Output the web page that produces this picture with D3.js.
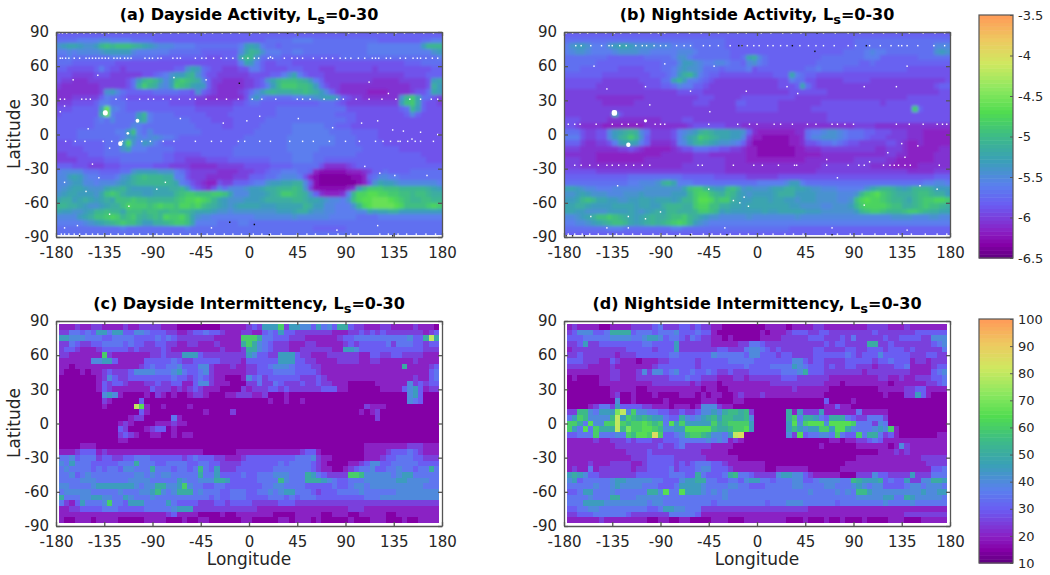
<!DOCTYPE html>
<html>
<head>
<meta charset="utf-8">
<script src="https://cdn.jsdelivr.net/npm/d3@7"></script>
<style>
body { margin: 0; background: #fff; }
text { font-family: "DejaVu Sans", sans-serif; fill: #262626; }
.title { font-weight: bold; fill: #000; }
</style>
</head>
<body>
<svg id="fig" width="1050" height="575"></svg>
<script>
// tick labels
var lonTicks = [-180, -135, -90, -45, 0, 45, 90, 135, 180];
var latTicks = [-90, -60, -30, 0, 30, 60, 90];
var activityTicks = [-6.5, -6, -5.5, -5, -4.5, -4, -3.5];
var intermitTicks = [10, 20, 30, 40, 50, 60, 70, 80, 90, 100];

// colour ramp (position 0-1, colour)
var rampPos = [0, 0.055, 0.11, 0.22, 0.3, 0.4, 0.5, 0.6, 0.7, 0.8, 0.9, 1];
var rampCol = ["#5f0080", "#8400a6", "#8a20c4", "#6a5cf2", "#5a80ee", "#3a9fb8", "#3dba88", "#50dc50", "#8fe860", "#cfe860", "#eec860", "#ff9a58"];

// activity cells, 5 deg boxes, one base-36 digit each: log10 value = -6.45 + 0.093 * digit
// rows run from 90 N down to 90 S
var dayActivity = [
"777777 777777 777777 777777 777777 777777 777777 777777 777777 777777 777777 777777",
"888899 99aa99 998888 777777 777777 777777 777888 889999 888888 888888 777777 778899",
"bcddcb bcfgfg ggfedc baaa99 998888 88889c dc9887 888888 888888 888899 999999 99cfff",
"99a9aa aabccc cca999 999888 888777 7777ad feb999 889988 888888 888899 999999 9999bc",
"889888 888899 998888 877777 777766 6777dg fb8888 777777 777778 888888 888888 888889",
"888777 777776 666666 666666 666666 66669d c97667 776666 666666 666666 666667 778888",
"776666 679766 566666 666677 bdc876 655566 997666 677766 655566 666665 666666 666677",
"666555 566655 555566 789bcc efb866 555555 666677 9bd976 665555 555555 555556 666777",
"655444 555555 568cfg fdacgh gfea75 544445 567bdf gggfec 975555 555554 444455 5556cd",
"544444 445555 568ehf ebachg fdcc75 444445 5679cf hhhggf c86554 444444 444444 5556ec",
"444444 445bca 877777 888887 76b765 444456 8acefe eeffgf eca754 444433 334444 5668dc",
"444555 557988 766666 666666 665544 444446 ac9888 8899aa bcddb7 655444 4444bf hd8865",
"555666 679988 877777 777666 665555 555667 887777 777777 788876 555555 5555cg hd7665",
"666777 77cka9 877777 777777 776666 666777 777778 888888 888888 666666 666678 fc7666",
"677777 77ek98 888cf9 888877 777766 667777 777778 888888 888877 776666 666667 a76666",
"777777 7898a8 888de9 888888 877776 666777 777888 888888 888888 776666 666666 666666",
"777777 788888 88a988 888888 887777 766777 778888 889999 998877 766666 666666 666666",
"777788 888889 9cg98a 888888 888777 777777 788888 889999 999888 877777 666666 666666",
"777788 888888 9bca9a ba9987 777777 777778 888888 899999 999988 887777 666666 666666",
"666777 777888 cib9cb 987777 777777 777788 888888 899999 999988 887777 766666 666666",
"666667 777888 bd9998 888877 777777 777888 888888 899999 988888 888777 777766 666666",
"556666 777888 888888 887766 666777 777888 888888 889999 888888 887777 777777 776666",
"555566 666777 888888 887766 555566 667777 777788 889999 887777 777777 777777 777666",
"777666 555666 777777 666555 544444 555556 666677 778888 864444 567777 777777 777777",
"9aaaa8 887777 88bccc cbbb98 655555 444455 566788 999887 322222 333457 787777 888888",
"aacdca 998889 bcefgf ffee99 655544 444555 777889 aaa963 211111 122378 aa9988 888888",
"aabcca a9aaab cdefff fffed9 865433 655777 899bcc ddeea6 211111 11236b dccbaa aaaaa9",
"abcddc bbbdee fdcccc dddeef c86546 a8aaab ccdeef ffgfb5 222222 34cfhh hgggff fffedc",
"bcddcc cbdghg edddcc ddddfg hhgggh hgdaaa cccdef hhgfeb 743334 9fiijj iihhgg fggfee",
"deecde dcdedg gghggf ffffgh iijihf dcbbbc ccdeee eeffed dcbaa9 bgijjk kkjihg ffggff",
"ffeedc bbcdee gihhhg hihhgi ihigfe dcbcdd ddcccd ddddfe ccaa99 9bfijk kkkjig ggghih",
"dccbbc dffgff dgggfg gffggf fedddc bbabbb bbbbbc ccdeec bbaa99 99aadc ddeecc cccccc",
"aaaacd egghih fghfef gfihhi gdbaa9 999999 9aaaaa aabaaa aaa999 998888 999999 999999",
"99999a bcdefg hggecc eefghh gd9999 888899 888888 888888 888888 888888 888888 888888",
"888888 888888 988888 888888 988888 888888 888888 888888 777777 888888 888888 888888",
"888888 888888 888888 888888 888888 888888 888888 888888 888888 888888 888888 888888"
];
var nightActivity = [
"777777 777777 777777 777777 777777 777777 777777 777777 777777 777777 777777 777777",
"888888 888888 888888 888888 888888 777777 777777 777777 777777 888888 888888 888888",
"9bccb9 99bcdd cbbbba aa9999 888888 777777 777777 777777 777777 888888 888888 888aaa",
"9abba9 999abb bbaa99 999aaa 988888 877777 777777 777777 777788 889a99 888888 888bcb",
"888888 887777 777888 889bb9 888888 8778de a87777 777777 888888 889997 777777 888888",
"888888 777777 777777 888acc ba99aa 9887ab 987777 777778 888888 877877 777777 777777",
"888777 777766 666777 889bcb ba8887 888896 777777 777889 888877 777777 777766 666666",
"777777 766666 666677 789cef c98776 666666 666777 d98776 666666 666666 666666 666666",
"666666 655555 556666 88dfc9 987655 555555 555566 988665 555566 666555 555555 555556",
"666666 555555 555666 778a99 776555 555555 555566 67d865 555555 555555 555555 555677",
"555555 555555 555555 555666 665555 555555 555555 666666 655555 555555 555555 555566",
"555555 444444 444555 555555 566655 555666 666666 655555 555555 555555 555566 666666",
"555555 544444 455555 555555 666555 557766 666655 555555 666666 666665 666666 666666",
"555555 555555 555555 555555 555555 556666 666655 555566 666666 666666 66666h 766666",
"555555 555d65 555555 555555 555555 555555 555555 555555 566666 666666 666666 666666",
"666555 554444 444444 555566 555555 555555 555555 555555 566666 666666 666666 666666",
"665444 433333 333444 444445 666666 555444 444444 444444 444444 555544 444444 444444",
"888655 66acde fea855 5569ab cefedd dccb74 333333 344899 abba98 887766 655544 433333",
"999655 66acef hfb755 5569bd ehgfed dcca53 322222 3348aa bbba98 887666 555544 433333",
"777544 5569cd dc9744 4459ac efedcb ba9742 222222 334667 889876 655555 665433 433333",
"555444 444455 654333 334566 888776 655433 222222 233444 555555 555544 555433 333344",
"444444 333333 333333 444444 555444 444433 222222 233333 444444 444444 554433 333444",
"555444 333333 333444 444444 555555 444433 333333 333444 444444 555555 443333 333444",
"555444 444444 444444 444455 555555 444444 444444 444444 555555 555444 433333 444444",
"666666 555555 555555 555555 555555 444444 444444 444445 555555 555555 555544 444555",
"777777 777777 888888 888877 777766 666655 555566 666666 666666 666666 666666 666777",
"888888 888888 99aaab efd999 888888 888888 99999a cc9888 888888 888888 888888 899aa9",
"ddcbaa 999aaa aaabbb bbbbdg hhfdcc fgebcb bbcdde eddcbb aaa999 99bdef fedcdf ffeccc",
"bbcdcb bbaaab bbcbbb bbcccf hiigfe gfdcbc cccdee eccccb bbbaaa bfhijh gfeeef ggfeec",
"ccdfgf ddccbb ccddcd ddcdff hjjigh hedccd ddcddc cbcccb bbbaab gijiih gffedf ghhiih",
"ddeedc cccddd dcddcc efffee hiigge eddcdd dddddd ccbbbb aabbbc fhiiii hggeef ghggfe",
"ddccbb bbcccc dcbcde dffeee fhhgfc dccccc cdccdd dddccc bbbbbb cfghhg fffghh gfeedd",
"aabcde gghgfe dcdefe efgghf edcbba aaaaba aaaaaa abaaaa aaaaaa aaaaaa abbbba aabbaa",
"99aabc defggf dcdefe fghihf cba999 999999 999999 999999 999999 999999 999999 999999",
"888888 889998 888888 889988 888888 888888 888888 777777 777777 777777 777777 777777",
"777777 777777 777777 777777 777777 777777 777777 777777 777777 777777 777777 777777"
];

// intermittency cells, 71 x 35 boxes centred on lon -175..175, lat 85..-85
// one base-36 digit each: percent = 10 + 5 * digit
var dayIntermit = [
"222322 332222 322333 322211 111111 222223 43777a 377664 756488 433222 332222 32221",
"335545 477577 446654 443322 344544 322233 224547 443333 333222 334343 433333 33234",
"776665 554455 554444 545433 333332 2222aa a85544 433322 222234 455555 555556 448e8",
"335433 445555 454433 443322 332223 22228a 865433 322233 222223 434444 453555 44344",
"344322 234444 434333 343222 222222 322238 865433 322333 333227 764444 444444 44333",
"332222 22a322 222223 343337 774333 333337 644337 774332 223333 332244 334433 33222",
"222222 667742 222244 444543 344444 333324 444447 774433 222233 332233 222222 32222",
"221222 222222 222345 445564 446632 223223 344566 654443 322222 222222 222282 22234",
"211121 223433 346666 555675 445632 222223 344455 554444 322222 222222 222222 22245",
"111111 123643 344444 444544 345432 211126 453444 444333 432222 222222 222222 32245",
"111111 124344 322233 433442 246632 221113 353354 333433 433222 111112 222226 34344",
"111111 124322 222224 333232 343222 111132 333443 433333 344422 111111 222246 74233",
"111111 116762 111121 321211 233211 122333 223111 211111 111111 111111 111116 74111",
"111111 113211 111411 111111 111111 111111 111211 211211 111111 111111 111116 54111",
"111111 112111 11eb21 121111 211111 111111 111111 111111 111111 111322 211111 11111",
"111111 111111 111421 111111 111211 113111 111111 111111 111111 112123 111111 11111",
"111111 111111 123311 111521 111111 111111 111111 111111 111111 111113 111111 11111",
"111111 111112 321111 222322 111111 111111 111111 111111 111111 111111 111111 11111",
"111111 111114 311123 441211 111111 111111 111111 111111 111111 111111 111111 11111",
"111111 111113 432112 211212 211111 111111 111111 111111 111111 111111 111111 11111",
"111111 111112 211111 111111 111111 111111 111111 111111 111111 111111 111111 11111",
"111122 211111 111111 111111 111111 111111 111111 111111 111111 111222 222223 33222",
"222344 423222 222222 222222 222111 111222 222222 222344 211111 111222 234445 43222",
"556455 534433 445554 444443 454443 322234 444444 445556 322111 111222 344555 44333",
"657555 444445 558555 445555 445544 333344 444445 455554 321111 223466 445555 54444",
"565555 454554 665558 555455 459547 333444 444455 555554 322112 345564 455655 45585",
"556456 555555 556656 566555 558557 444454 455566 655587 543333 aa9666 665677 55555",
"555566 655555 566665 555576 556668 874444 455559 655588 876544 555666 666776 66655",
"665555 677777 776566 88667a 655445 544444 445566 555544 444544 566566 666666 66555",
"566666 555556 555667 965688 856555 445554 455656 775554 344455 556555 555666 66666",
"855566 776655 765556 555555 555545 445554 444555 454555 444444 444555 666666 66666",
"532475 556a55 477755 557544 443334 434444 333334 443333 333333 333333 333333 33333",
"223344 445554 444455 555677 733333 333333 322222 222222 222222 333222 222222 22222",
"222222 222222 222222 223422 221111 211222 222211 112222 211222 112222 211222 22222",
"211222 122221 111122 221112 112211 111122 111112 212221 211111 211122 211121 12222"
];
var nightIntermit = [
"232222 112222 333345 333443 433221 111111 122221 222233 222222 223333 222322 22222",
"346664 458888 455545 556444 544211 111111 212223 444334 433333 333433 333334 44444",
"444555 556666 556776 455435 433221 211111 222233 333444 333435 333334 334444 33666",
"334733 444444 445544 447333 333222 223355 433333 333333 434433 338833 433333 33456",
"233333 333334 444434 447333 333344 333566 543433 333344 333344 334443 444343 33335",
"334333 333233 344444 455444 444655 555466 444344 333344 444454 344464 444433 34433",
"444333 224322 212223 344444 344444 555554 444444 664344 333344 444344 544423 32333",
"333322 223222 222234 444444 344444 444544 445555 765444 343344 333233 344522 22344",
"222222 223322 236366 456445 445433 433344 444455 568444 333333 323333 333322 22456",
"121111 223322 233333 344454 433322 233233 333344 433333 322222 222233 223223 33445",
"111111 222222 222233 333332 322212 222222 223333 333333 222122 222222 122222 23345",
"111111 112222 211222 222222 212211 222222 222222 322222 211111 111122 222334 42222",
"111111 112311 211121 111222 121221 123222 322222 222222 111111 111112 111337 42111",
"111111 111611 211111 211111 122211 122111 111111 111111 411112 111111 111111 11111",
"111123 553744 443322 212221 266632 211111 111111 111111 224221 111111 111111 11111",
"339965 777ce6 a66554 433433 466768 998931 111118 273337 222222 522222 111111 11111",
"57a966 669e7a 989877 544865 678979 988961 111118 a58875 488854 335553 111111 11111",
"aa85b6 6aaea9 aaba9a 5b7a77 777a89 aaaa71 111117 b6abbb 6bbbba 555365 111111 11111",
"a75b5a 888e9c aabba9 6677bb bbb988 9aab71 111117 97677a a7bb86 555676 a21111 11111",
"44555a 55565a 9bbafa 44569a a98665 7ef111 111116 3b4556 65a544 a58853 421111 11122",
"222223 223334 344433 444555 556565 232111 111111 111111 122122 334542 222222 22222",
"222222 222333 333334 334533 333222 211111 111111 111112 111111 222222 126322 22222",
"222222 222223 333433 333333 322222 111111 111111 111111 111111 111122 232322 22222",
"222222 222222 333444 443333 332222 221111 111111 111111 111111 222222 222222 33333",
"222232 223333 223444 443434 555443 222222 211111 111111 111122 222222 222222 23333",
"232252 333333 233444 453444 566444 322222 211222 222111 111222 222222 222222 22445",
"787644 333333 344444 455544 854445 895543 333677 664322 222111 333644 333373 33555",
"674555 556776 666655 444677 885544 554677 554555 664456 666559 877784 544733 66887",
"555556 556766 665554 445777 765555 665544 455555 665555 665556 765664 444566 56665",
"445775 556555 555886 b55b77 765656 555555 555555 555655 556565 997666 666666 76677",
"555565 558855 566666 555555 555556 555555 555555 555555 555555 666667 755876 66665",
"555777 766666 666566 555555 555455 555555 545556 665555 554555 555556 555565 55555",
"445566 555555 555445 776655 533333 333333 333333 333222 222222 222222 222222 22222",
"334445 555554 333333 355555 422222 222222 222222 222222 222222 222222 222333 33333",
"222222 322222 222112 211221 111222 111222 222221 112111 211211 121111 222111 22222"
];

// big white blobs (lon, lat, size in degrees)
var dayBlobs = [[-134, 19, 4.5], [-120, -8, 4], [-104, 12, 3.5], [-113, 1, 2.5]];
var nightBlobs = [[-133, 19, 5], [-120, -9, 4], [-104, 12, 3]];

// white gaps seen along single latitudes
var dayGapLat = [67, 31, -6];
var dayGapLon = [
[-176, -174, -171, -168, -163, -158, -152, -149, -146, -143, -140, -137, -134, -131, -126, -123, -120, -116, -113, -110, -97, -93, -90, -85, -82, -71, -67, -64, -50, -44, -40, -33, -26, -21, -15, -6, -1, 5, 9, 18, 22, 33, 40, 45, 50, 60, 68, 72, 78, 85, 90, 95, 102, 108, 115, 118, 121, 128, 132, 141, 146, 153, 157, 160, 165, 171, 176],
[-176, -172, -156, -152, -148, -124, -114, -102, -94, -89, -80, -73, -65, -55, -50, -40, -30, -21, -10, 3, 12, 25, 45, 50, 57, 70, 82, 88, 100, 112, 124, 137, 150, 160, 170, 176],
[-171, -162, -153, -136, -128, -118, -100, -92, -80, -70, -50, -35, -26, -10, -4, 10, 20, 38, 50, 60, 75, 90, 103, 118, 125, 132, 139, 141, 148, 155, 160, 172]
];
var nightGapLat = [78, 9, -27];
var nightGapLon = [
[-169, -164, -155, -145, -138, -135, -128, -122, -113, -107, -103, -96, -90, -85, -75, -68, -62, -50, -44, -36, -25, -14, -9, -3, 2, 10, 15, 22, 28, 40, 48, 55, 62, 72, 85, 92, 105, 115, 125, 132, 135, 140, 150, 165, 175],
[-176, -170, -165, -150, -135, -126, -120, -112, -95, -90, -86, -45, -18, -7, 0, 16, 22, 33, 47, 55, 70, 75, 82, 90, 130, 142, 155, 168, 173, 177],
[-170, -164, -156, -148, -140, -135, -129, -122, -115, -107, -100, -55, -51, -22, -3, 5, 20, 35, 37, 65, 85, 95, 100, 118, 124, 128, 132, 138, 143, 170]
];

// scattered white gaps (lon, lat)
var dayGaps = [[-164, 48], [-141, 52], [-172, 25], [-176, 20], [-150, 5], [-130, -12], [-146, -26], [-140, -38], [-172, -42], [-152, -50], [-160, -80], [-172, -82], [-130, -70], [-112, -63], [-86, -48], [-78, -42], [-64, 14], [-24, 10], [-2, 12], [10, 16], [46, 14], [78, 6], [105, 10], [120, 12], [134, 4], [144, 3], [152, -4], [160, 2], [176, 0], [108, -28], [122, -34], [136, -36], [166, -36], [-70, 50], [-40, 48], [20, 68], [112, 46], [130, 36], [82, -84], [120, -80], [-35, -82]];
var nightGaps = [[-152, 60], [-140, 40], [-104, 42], [-86, 62], [-62, 38], [-40, 60], [-10, 38], [28, 42], [38, 36], [100, 42], [130, 42], [140, 60], [-100, 26], [-44, 20], [-16, -60], [-22, -58], [-12, -55], [-8, -63], [75, -38], [65, -22], [105, -24], [122, -16], [135, -8], [150, -10], [138, -20], [168, -48], [152, -45], [100, -62], [-120, -72], [-104, -74], [-90, -68], [-45, -48], [-130, -45], [-155, -72], [-140, -82], [-120, -82], [-30, -82], [70, -82], [140, -84]];

// black pixels (lon, lat)
var dayDark = [[-9, 45], [-18, -77], [5, -79], [36, 89], [113, 89], [19, -88], [134, -89], [-158, -89]];
var nightDark = [[-17, 78], [-14, 78], [33, 78], [102, 78], [54, 73], [56, 89], [-178, -89], [-172, -89], [-161, -89], [-76, -89], [-62, -88], [-28, -88], [70, -88]];

// top row of white gaps near the pole
var dayPoleLon = [-177, -174, -170, -165, -160, -154, -148, -143, -137, -131, -124, -118, -110, -104, -96, -88, -82, -73, -66, -57, -50, -41, -34, -25, -17, -9, 2, 10, 18, 28, 43, 52, 60, 72, 81, 93, 100, 120, 128, 137, 145, 154, 163, 172];
var nightPoleLon = [-178, -172, -165, -158, -150, -141, -133, -127, -118, -110, -99, -92, -86, -74, -63, -52, -44, -36, -27, -18, -10, 4, 13, 24, 32, 41, 62, 73, 85, 96, 108, 118, 130, 142, 155, 166, 175];

var svg = d3.select("#fig");
var defs = svg.append("defs");

var ramp = d3.scaleLinear().domain(rampPos).range(rampCol);
var activityColor = function(v) { return ramp((v + 6.5) / 3); };
var intermitColor = function(v) { return ramp((v - 10) / 90); };

// soft filters, the picture is a little blurred
[["softBig", 1.7], ["softSmall", 0.55], ["softDot", 0.2]].forEach(function(f) {
  defs.append("filter").attr("id", f[0])
    .attr("x", "-5%").attr("y", "-5%").attr("width", "110%").attr("height", "110%")
    .append("feGaussianBlur").attr("stdDeviation", f[1]);
});

// turn the row strings into cell records
function readCells(rows, lon0, lat0, toValue) {
  var cells = [];
  rows.forEach(function(row, k) {
    row.replace(/ /g, "").split("").forEach(function(ch, i) {
      cells.push({ lon: lon0 + 5 * i, lat: lat0 - 5 * k, value: toValue(parseInt(ch, 36)) });
    });
  });
  return cells;
}

function drawPanel(opt) {
  var g = svg.append("g");
  var x = d3.scaleLinear().domain([-180, 180]).range([opt.left, opt.left + 386]);
  var y = d3.scaleLinear().domain([-90, 90]).range([opt.top + 205, opt.top]);
  var clipId = "clip" + opt.id;

  defs.append("clipPath").attr("id", clipId).append("rect")
    .attr("x", opt.left).attr("y", opt.top).attr("width", 386).attr("height", 205);

  var plot = g.append("g").attr("clip-path", "url(#" + clipId + ")");
  var field = plot.append("g").attr("filter", "url(#" + opt.soft + ")").attr("shape-rendering", "crispEdges");

  // edge cells run past the frame so the blur does not fade at the border
  var pad = opt.soft == "softBig" ? 12 : 0;
  field.selectAll("rect")
    .data(opt.cells)
  .enter().append("rect")
    .attr("x", function(d) { return x(d.lon - 2.5) - (d.lon - 2.5 <= -180 ? pad : 0); })
    .attr("y", function(d) { return y(d.lat + 2.5) - (d.lat + 2.5 >= 90 ? pad : 0); })
    .attr("width", function(d) { return x(d.lon + 2.5) - x(d.lon - 2.5) + ((d.lon - 2.5 <= -180 || d.lon + 2.5 >= 180) ? pad : 0); })
    .attr("height", function(d) { return y(d.lat - 2.5) - y(d.lat + 2.5) + ((d.lat + 2.5 >= 90 || d.lat - 2.5 <= -90) ? pad : 0); })
    .style("fill", function(d) { return opt.color(d.value); });

  // white gaps and dark pixels in the activity maps
  if (opt.gapLat) {
    var dots = plot.append("g").attr("filter", "url(#softDot)");
    var marks = [];
    opt.gapLat.forEach(function(lat, n) {
      opt.gapLon[n].forEach(function(lon) { marks.push([lon, lat, 1.3, "#fff"]); });
    });
    opt.gaps.forEach(function(p) { marks.push([p[0], p[1], 1.3, "#fff"]); });
    opt.poleLon.forEach(function(lon) { marks.push([lon, 89, 1.3, "#fff"]); marks.push([lon + 2, -87.5, 1.3, "#fff"]); });
    opt.dark.forEach(function(p) { marks.push([p[0], p[1], 1.3, "#111"]); });
    opt.blobs.forEach(function(p) { marks.push([p[0], p[1], p[2], "#fff"]); });

    dots.append("rect")
      .attr("x", x(-180)).attr("width", x(180) - x(-180))
      .attr("y", y(-88.3)).attr("height", y(-90) - y(-88.3))
      .style("fill", "#fff");

    dots.selectAll("rect.mark")
      .data(marks)
    .enter().append("rect")
      .attr("class", "mark")
      .attr("x", function(d) { return x(d[0] - d[2] / 2); })
      .attr("y", function(d) { return y(d[1] + d[2] / 2); })
      .attr("width", function(d) { return x(d[2]) - x(0); })
      .attr("height", function(d) { return y(0) - y(d[2]); })
      .attr("rx", function(d) { return d[2] > 2 ? 2 : 0; })
      .style("fill", function(d) { return d[3]; });
  }

  // axes, ticks point inward on all four sides
  var bottom = d3.axisBottom(x).tickValues(lonTicks).tickFormat(String).tickSizeInner(-4).tickSizeOuter(0).tickPadding(10);
  var left = d3.axisLeft(y).tickValues(latTicks).tickFormat(String).tickSizeInner(-4).tickSizeOuter(0).tickPadding(7);
  var top = d3.axisTop(x).tickValues(lonTicks).tickFormat("").tickSizeInner(-4).tickSizeOuter(0);
  var right = d3.axisRight(y).tickValues(latTicks).tickFormat("").tickSizeInner(-4).tickSizeOuter(0);

  [[bottom, 0, opt.top + 205], [left, opt.left, 0], [top, 0, opt.top], [right, opt.left + 386, 0]].forEach(function(a) {
    var ax = g.append("g").attr("transform", "translate(" + a[1] + "," + a[2] + ")").call(a[0]);
    ax.selectAll("path, line").style("stroke", "#555").style("stroke-width", 1.3);
    ax.selectAll("text").style("font-size", "15px").style("font-family", "DejaVu Sans").style("fill", "#262626");
  });

  // title with the subscript s
  var t = g.append("text").attr("class", "title")
    .attr("x", opt.left + 193).attr("y", opt.top - 12.5)
    .attr("text-anchor", "middle").style("font-size", "16px");
  t.append("tspan").text(opt.title + ", L");
  t.append("tspan").attr("dy", 4).style("font-size", "13px").text("s");
  t.append("tspan").attr("dy", -4).text("=0-30");

  if (opt.yLabel) {
    g.append("text")
      .attr("transform", "translate(20," + (opt.top + 102) + ") rotate(-90)")
      .attr("text-anchor", "middle").style("font-size", "17px").text("Latitude");
  }
  if (opt.xLabel) {
    g.append("text")
      .attr("x", opt.left + 193).attr("y", opt.top + 244)
      .attr("text-anchor", "middle").style("font-size", "17px").text("Longitude");
  }
}

function drawColorbar(top, height, lo, hi, ticks, color) {
  var y = d3.scaleLinear().domain([lo, hi]).range([top + height, top]);
  var g = svg.append("g");
  var steps = d3.range(64);
  g.selectAll("rect")
    .data(steps)
  .enter().append("rect")
    .attr("x", 979).attr("width", 34)
    .attr("y", function(d) { return y(lo + (hi - lo) * (d + 1) / 64); })
    .attr("height", height / 64 + 0.5)
    .style("fill", function(d) { return color(lo + (hi - lo) * (d + 0.5) / 64); });
  g.append("rect")
    .attr("x", 979).attr("y", top).attr("width", 34).attr("height", height)
    .style("fill", "none").style("stroke", "#555").style("stroke-width", 1.2);
  var ax = g.append("g").attr("transform", "translate(1013,0)")
    .call(d3.axisRight(y).tickValues(ticks).tickFormat(String).tickSizeInner(-3).tickSizeOuter(0).tickPadding(5));
  ax.select("path").remove();
  ax.selectAll("line").style("stroke", "#555");
  ax.selectAll("text").style("font-size", "13px").style("font-family", "DejaVu Sans").style("fill", "#262626");
}

var toActivity = function(n) { return -6.45 + 0.093 * n; };
var toPercent = function(n) { return 10 + 5 * n; };

drawPanel({ id: "a", left: 56, top: 32, title: "(a) Dayside Activity", soft: "softBig",
  cells: readCells(dayActivity, -177.5, 87.5, toActivity), color: activityColor, yLabel: true,
  gapLat: dayGapLat, gapLon: dayGapLon, gaps: dayGaps, dark: dayDark, blobs: dayBlobs, poleLon: dayPoleLon });
drawPanel({ id: "b", left: 564, top: 32, title: "(b) Nightside Activity", soft: "softBig",
  cells: readCells(nightActivity, -177.5, 87.5, toActivity), color: activityColor,
  gapLat: nightGapLat, gapLon: nightGapLon, gaps: nightGaps, dark: nightDark, blobs: nightBlobs, poleLon: nightPoleLon });
drawPanel({ id: "c", left: 56, top: 321, title: "(c) Dayside Intermittency", soft: "softSmall",
  cells: readCells(dayIntermit, -175, 85, toPercent), color: intermitColor, yLabel: true, xLabel: true });
drawPanel({ id: "d", left: 564, top: 321, title: "(d) Nightside Intermittency", soft: "softSmall",
  cells: readCells(nightIntermit, -175, 85, toPercent), color: intermitColor, xLabel: true });

drawColorbar(15, 243, -6.5, -3.5, activityTicks, activityColor);
drawColorbar(319, 244, 10, 100, intermitTicks, intermitColor);
</script>
</body>
</html>
